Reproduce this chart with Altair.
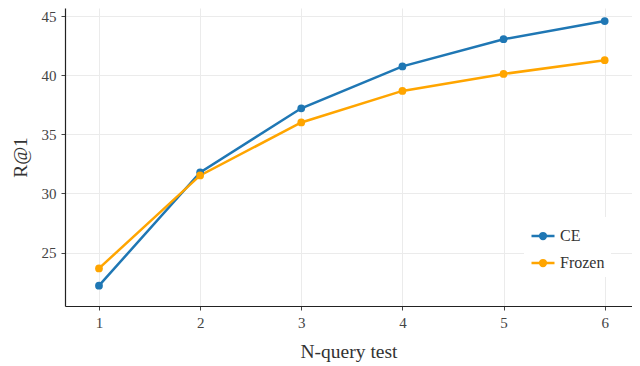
import altair as alt
import pandas as pd

n_query = [1, 2, 3, 4, 5, 6]
ce = [22.2, 31.78, 37.2, 40.74, 43.04, 44.58]
frozen = [23.66, 31.52, 36.0, 38.67, 40.1, 41.27]
series = ["CE", "Frozen"]
colors = ["#1f77b4", "#ffa500"]

rows = []
for name, vals in zip(series, [ce, frozen]):
    for x, v in zip(n_query, vals):
        rows.append({"n": x, "r1": v, "method": name})
df = pd.DataFrame(rows)

FONT = "Liberation Serif"

sym = ("M -1 0 L 1 0 "
       "M -0.25 0 A 0.25 0.25 0 1 0 0.25 0 A 0.25 0.25 0 1 0 -0.25 0 "
       "M -0.1 0 A 0.1 0.1 0 1 0 0.1 0 A 0.1 0.1 0 1 0 -0.1 0")

color = alt.Color(
    "method:N",
    scale=alt.Scale(domain=series, range=colors),
    legend=alt.Legend(
        title=None, orient="none", legendX=459, legendY=209,
        fillColor="white", padding=6, symbolType=sym, symbolSize=529,
        symbolStrokeWidth=2.5, labelFont=FONT, labelFontSize=16,
        labelColor="#333333", rowPadding=6, labelOffset=4,
    ),
)

x = alt.X("n:Q", scale=alt.Scale(domain=[0.664, 6.27], nice=False, zero=False),
          axis=alt.Axis(values=n_query, title="N-query test", format="d"))
y = alt.Y("r1:Q", scale=alt.Scale(domain=[20.48, 45.68], nice=False, zero=False),
          axis=alt.Axis(values=[25, 30, 35, 40, 45], title="R@1"))

base = alt.Chart(df).encode(x=x, y=y, color=color)
lines = base.mark_line(strokeWidth=2.5)
points = base.mark_circle(size=60, opacity=1)

chart = (lines + points).properties(
    width=567, height=298,
    autosize=alt.AutoSizeParams(type="none"),
    padding={"left": 57, "top": 0, "right": 0, "bottom": 60},
).configure_view(stroke=None).configure_axis(
    grid=True, gridColor="#ebebeb", gridWidth=1,
    domainColor="#222222", domainWidth=1.2,
    tickColor="#444444", tickSize=4, tickWidth=1,
    labelFont=FONT, labelFontSize=15, labelColor="#444444", labelPadding=5,
    titleFont=FONT, titleFontSize=19.5, titleColor="#333333", titleFontWeight="normal",
).configure_axisX(domain=True, titlePadding=12).configure_axisY(titlePadding=11)

chart.save("out.html", embed_options={"renderer": "svg", "actions": False})
